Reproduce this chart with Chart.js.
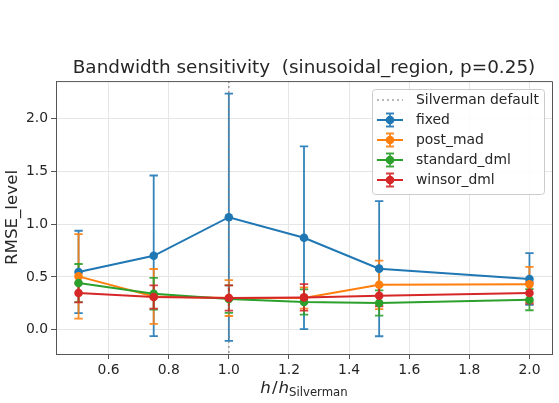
<!DOCTYPE html>
<html>
<head>
<meta charset="utf-8">
<script src="https://cdn.jsdelivr.net/npm/chart.js@4.4.1/dist/chart.umd.min.js"></script>
<style>
  html, body { margin: 0; padding: 0; background: #fff; }
  #wrap { width: 559px; height: 403px; }
</style>
</head>
<body>
<div id="wrap"><canvas id="grafico" width="559" height="403"></canvas></div>
<script>
const bandwidths = [0.5, 0.75, 1.0, 1.25, 1.5, 2.0]
const xTicks = [0.6, 0.8, 1.0, 1.2, 1.4, 1.6, 1.8, 2.0]
const yTicks = [0.0, 0.5, 1.0, 1.5, 2.0]
const silvermanDefault = 1.0

const fixed = [0.547, 0.70, 1.065, 0.87, 0.578, 0.48]
const fixedErr = [0.39, 0.76, 1.17, 0.865, 0.64, 0.245]
const postMad = [0.505, 0.315, 0.30, 0.30, 0.425, 0.43]
const postMadErr = [0.40, 0.26, 0.17, 0.10, 0.23, 0.165]
const standardDml = [0.442, 0.341, 0.29, 0.262, 0.253, 0.284]
const standardDmlErr = [0.18, 0.15, 0.13, 0.12, 0.12, 0.10]
const winsorDml = [0.348, 0.31, 0.30, 0.306, 0.322, 0.348]
const winsorDmlErr = [0.09, 0.11, 0.12, 0.125, 0.10, 0.10]

const series = [
  { label: 'fixed', values: fixed, err: fixedErr, color: '#1f77b4' },
  { label: 'post_mad', values: postMad, err: postMadErr, color: '#ff7f0e' },
  { label: 'standard_dml', values: standardDml, err: standardDmlErr, color: '#2ca02c' },
  { label: 'winsor_dml', values: winsorDml, err: winsorDmlErr, color: '#d62728' },
]

const fuente = "'DejaVu Sans', sans-serif"
const colorTexto = '#262626'
const colorEje = '#555555'

const datasets = series.map((s, i) => ({
  label: s.label,
  data: bandwidths.map((b, j) => ({ x: b, y: s.values[j] })),
  errores: s.err,
  borderColor: s.color,
  backgroundColor: s.color,
  borderWidth: 2,
  pointRadius: 4.3,
  pointHoverRadius: 4.3,
  pointBorderWidth: 0,
  pointBackgroundColor: s.color,
  showLine: true,
  order: series.length - i,
}))

// barras de error y linea de Silverman, por debajo de las series
const pluginErrores = {
  id: 'errores',
  beforeDatasetsDraw(chart) {
    const { ctx, scales: { x, y }, chartArea } = chart
    ctx.save()
    chart.data.datasets.forEach(ds => {
      ctx.strokeStyle = ds.borderColor
      ctx.globalAlpha = 0.9
      ctx.lineWidth = 1.8
      ds.data.forEach((p, j) => {
        const px = x.getPixelForValue(p.x)
        const top = y.getPixelForValue(p.y + ds.errores[j])
        const bot = y.getPixelForValue(p.y - ds.errores[j])
        ctx.beginPath()
        ctx.moveTo(px, top); ctx.lineTo(px, bot)
        ctx.moveTo(px - 4.2, top); ctx.lineTo(px + 4.2, top)
        ctx.moveTo(px - 4.2, bot); ctx.lineTo(px + 4.2, bot)
        ctx.stroke()
      })
    })
    ctx.globalAlpha = 1
    const sx = x.getPixelForValue(silvermanDefault)
    ctx.strokeStyle = 'rgba(128,128,128,0.75)'
    ctx.lineWidth = 1.6
    ctx.setLineDash([2, 3])
    ctx.beginPath()
    ctx.moveTo(sx, chartArea.top); ctx.lineTo(sx, chartArea.bottom)
    ctx.stroke()
    ctx.restore()
  },
  afterDraw(chart) {
    const { ctx, chartArea: a } = chart
    ctx.save()
    // marco superior y derecho
    ctx.strokeStyle = colorEje
    ctx.lineWidth = 1
    ctx.beginPath()
    ctx.moveTo(a.left, a.top + 0.5); ctx.lineTo(a.right + 0.5, a.top + 0.5)
    ctx.lineTo(a.right + 0.5, a.bottom)
    ctx.stroke()

    // leyenda
    const lx = 372, ly = 89, lw = 172, lh = 105
    ctx.fillStyle = 'rgba(255,255,255,0.85)'
    ctx.strokeStyle = '#cccccc'
    ctx.beginPath()
    ctx.roundRect(lx + 0.5, ly + 0.5, lw, lh, 3)
    ctx.fill(); ctx.stroke()

    ctx.font = `13.9px ${fuente}`
    ctx.textBaseline = 'middle'
    ctx.textAlign = 'left'
    const hx0 = lx + 5, hx1 = lx + 31, hc = lx + 18, tx = lx + 44
    let fy = ly + 11
    ctx.strokeStyle = 'rgba(128,128,128,0.75)'
    ctx.lineWidth = 1.6
    ctx.setLineDash([2, 3])
    ctx.beginPath(); ctx.moveTo(hx0, fy); ctx.lineTo(hx1, fy); ctx.stroke()
    ctx.setLineDash([])
    ctx.fillStyle = colorTexto
    ctx.fillText('Silverman default', tx, fy)
    series.forEach((s, i) => {
      fy = ly + 31 + i * 20
      ctx.strokeStyle = s.color
      ctx.globalAlpha = 0.9
      ctx.lineWidth = 1.8
      ctx.beginPath()
      ctx.moveTo(hc, fy - 6.5); ctx.lineTo(hc, fy + 6.5)
      ctx.moveTo(hc - 4, fy - 6.5); ctx.lineTo(hc + 4, fy - 6.5)
      ctx.moveTo(hc - 4, fy + 6.5); ctx.lineTo(hc + 4, fy + 6.5)
      ctx.stroke()
      ctx.globalAlpha = 1
      ctx.lineWidth = 2
      ctx.beginPath(); ctx.moveTo(hx0, fy); ctx.lineTo(hx1, fy); ctx.stroke()
      ctx.fillStyle = s.color
      ctx.beginPath(); ctx.arc(hc, fy, 4.3, 0, Math.PI * 2); ctx.fill()
      ctx.fillStyle = colorTexto
      ctx.fillText(s.label, tx, fy)
    })

    // titulo del eje x: h / h_Silverman
    const cx = (a.left + a.right) / 2
    const base = 393
    ctx.textBaseline = 'alphabetic'
    ctx.fillStyle = colorTexto
    ctx.font = `italic 16.7px ${fuente}`
    const wH = ctx.measureText('h').width
    ctx.font = `16.7px ${fuente}`
    const wBarra = ctx.measureText('/').width
    ctx.font = `11.7px ${fuente}`
    const sub = 'Silverman'
    const wSub = ctx.measureText(sub).width
    const total = wH * 2 + wBarra + 2 + wSub
    let px = cx - total / 2
    ctx.font = `italic 16.7px ${fuente}`
    ctx.fillText('h', px, base); px += wH + 1
    ctx.font = `16.7px ${fuente}`
    ctx.fillText('/', px, base); px += wBarra + 1
    ctx.font = `italic 16.7px ${fuente}`
    ctx.fillText('h', px, base); px += wH
    ctx.font = `11.7px ${fuente}`
    ctx.fillText(sub, px, base + 2.5)
    ctx.restore()
  },
}

new Chart(document.getElementById('grafico').getContext('2d'), {
  type: 'scatter',
  data: { datasets },
  options: {
    responsive: false,
    animation: false,
    events: [],
    layout: { padding: { left: 0, right: 7, top: 0, bottom: 0 } },
    plugins: {
      legend: { display: false },
      tooltip: { enabled: false },
      title: {
        display: true,
        text: 'Bandwidth sensitivity  (sinusoidal_region, p=0.25)',
        fullSize: false,
        color: colorTexto,
        font: { family: fuente, size: 18.4, weight: 'normal', lineHeight: 1.2 },
        padding: { top: 57, bottom: 2 },
      },
    },
    scales: {
      x: {
        type: 'linear',
        min: 0.425,
        max: 2.075,
        afterBuildTicks: scale => { scale.ticks = xTicks.map(v => ({ value: v })) },
        afterFit: scale => { scale.height = 49 },
        grid: { color: '#e6e6e6', tickColor: colorEje, tickLength: 5, drawTicks: true },
        border: { color: colorEje, width: 1 },
        ticks: {
          color: colorTexto,
          padding: 3,
          maxRotation: 0,
          font: { family: fuente, size: 13.9 },
          callback: v => v.toFixed(1),
        },
      },
      y: {
        type: 'linear',
        min: -0.23,
        max: 2.354,
        afterBuildTicks: scale => { scale.ticks = yTicks.map(v => ({ value: v })) },
        afterFit: scale => { scale.width = 56 },
        grid: { color: '#e6e6e6', tickColor: colorEje, tickLength: 5, drawTicks: true },
        border: { color: colorEje, width: 1 },
        title: {
          display: true,
          text: 'RMSE_level',
          color: colorTexto,
          font: { family: fuente, size: 16.7, lineHeight: 1.2 },
          padding: { top: 3, bottom: 0 },
        },
        ticks: {
          color: colorTexto,
          padding: 3,
          font: { family: fuente, size: 13.9 },
          callback: v => v.toFixed(1),
        },
      },
    },
  },
  plugins: [pluginErrores],
})
</script>
</body>
</html>
